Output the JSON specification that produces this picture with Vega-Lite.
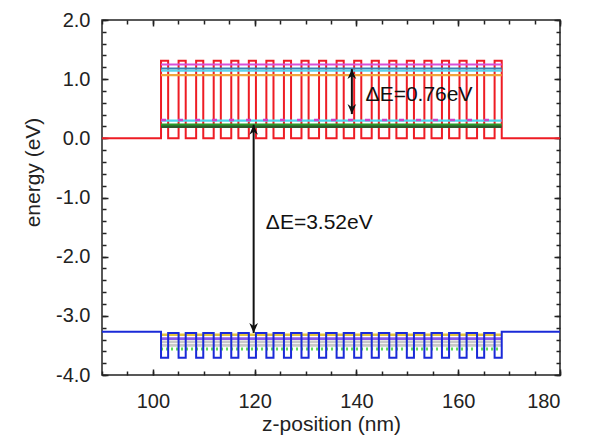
{
  "$schema": "https://vega.github.io/schema/vega-lite/v6.json",
  "width": 458,
  "height": 355,
  "autosize": "none",
  "padding": {"left": 102, "top": 20, "right": 30, "bottom": 62},
  "background": "white",
  "config": {
    "font": "Liberation Sans",
    "view": {"stroke": "#222", "strokeWidth": 1.5},
    "axis": {
      "labelFont": "Liberation Sans",
      "titleFont": "Liberation Sans",
      "labelColor": "#222",
      "titleColor": "#222",
      "tickColor": "#222",
      "tickWidth": 1.5,
      "domain": false,
      "grid": false,
      "labelFontSize": 20,
      "titleFontSize": 21,
      "titleFontWeight": "normal"
    }
  },
  "resolve": {"axis": {"x": "independent", "y": "independent"}},
  "datasets": {
    "cb": [{"o":0,"x":90,"y":0},{"o":1,"x":101.6,"y":0},{"o":2,"x":101.6,"y":1.31},{"o":3,"x":103.0,"y":1.31},{"o":4,"x":103.0,"y":0},{"o":5,"x":105.05,"y":0},{"o":6,"x":105.05,"y":1.31},{"o":7,"x":106.45,"y":1.31},{"o":8,"x":106.45,"y":0},{"o":9,"x":108.5,"y":0},{"o":10,"x":108.5,"y":1.31},{"o":11,"x":109.9,"y":1.31},{"o":12,"x":109.9,"y":0},{"o":13,"x":111.95,"y":0},{"o":14,"x":111.95,"y":1.31},{"o":15,"x":113.35,"y":1.31},{"o":16,"x":113.35,"y":0},{"o":17,"x":115.4,"y":0},{"o":18,"x":115.4,"y":1.31},{"o":19,"x":116.8,"y":1.31},{"o":20,"x":116.8,"y":0},{"o":21,"x":118.85,"y":0},{"o":22,"x":118.85,"y":1.31},{"o":23,"x":120.25,"y":1.31},{"o":24,"x":120.25,"y":0},{"o":25,"x":122.3,"y":0},{"o":26,"x":122.3,"y":1.31},{"o":27,"x":123.7,"y":1.31},{"o":28,"x":123.7,"y":0},{"o":29,"x":125.75,"y":0},{"o":30,"x":125.75,"y":1.31},{"o":31,"x":127.15,"y":1.31},{"o":32,"x":127.15,"y":0},{"o":33,"x":129.2,"y":0},{"o":34,"x":129.2,"y":1.31},{"o":35,"x":130.6,"y":1.31},{"o":36,"x":130.6,"y":0},{"o":37,"x":132.65,"y":0},{"o":38,"x":132.65,"y":1.31},{"o":39,"x":134.05,"y":1.31},{"o":40,"x":134.05,"y":0},{"o":41,"x":136.1,"y":0},{"o":42,"x":136.1,"y":1.31},{"o":43,"x":137.5,"y":1.31},{"o":44,"x":137.5,"y":0},{"o":45,"x":139.55,"y":0},{"o":46,"x":139.55,"y":1.31},{"o":47,"x":140.95,"y":1.31},{"o":48,"x":140.95,"y":0},{"o":49,"x":143.0,"y":0},{"o":50,"x":143.0,"y":1.31},{"o":51,"x":144.4,"y":1.31},{"o":52,"x":144.4,"y":0},{"o":53,"x":146.45,"y":0},{"o":54,"x":146.45,"y":1.31},{"o":55,"x":147.85,"y":1.31},{"o":56,"x":147.85,"y":0},{"o":57,"x":149.9,"y":0},{"o":58,"x":149.9,"y":1.31},{"o":59,"x":151.3,"y":1.31},{"o":60,"x":151.3,"y":0},{"o":61,"x":153.35,"y":0},{"o":62,"x":153.35,"y":1.31},{"o":63,"x":154.75,"y":1.31},{"o":64,"x":154.75,"y":0},{"o":65,"x":156.8,"y":0},{"o":66,"x":156.8,"y":1.31},{"o":67,"x":158.2,"y":1.31},{"o":68,"x":158.2,"y":0},{"o":69,"x":160.25,"y":0},{"o":70,"x":160.25,"y":1.31},{"o":71,"x":161.65,"y":1.31},{"o":72,"x":161.65,"y":0},{"o":73,"x":163.7,"y":0},{"o":74,"x":163.7,"y":1.31},{"o":75,"x":165.1,"y":1.31},{"o":76,"x":165.1,"y":0},{"o":77,"x":167.15,"y":0},{"o":78,"x":167.15,"y":1.31},{"o":79,"x":168.55,"y":1.31},{"o":80,"x":168.55,"y":0},{"o":81,"x":180,"y":0}],
    "vb": [{"o":0,"x":90,"y":-3.27},{"o":1,"x":101.6,"y":-3.27},{"o":2,"x":101.6,"y":-3.71},{"o":3,"x":103.0,"y":-3.71},{"o":4,"x":103.0,"y":-3.29},{"o":5,"x":105.05,"y":-3.29},{"o":6,"x":105.05,"y":-3.71},{"o":7,"x":106.45,"y":-3.71},{"o":8,"x":106.45,"y":-3.29},{"o":9,"x":108.5,"y":-3.29},{"o":10,"x":108.5,"y":-3.71},{"o":11,"x":109.9,"y":-3.71},{"o":12,"x":109.9,"y":-3.29},{"o":13,"x":111.95,"y":-3.29},{"o":14,"x":111.95,"y":-3.71},{"o":15,"x":113.35,"y":-3.71},{"o":16,"x":113.35,"y":-3.29},{"o":17,"x":115.4,"y":-3.29},{"o":18,"x":115.4,"y":-3.71},{"o":19,"x":116.8,"y":-3.71},{"o":20,"x":116.8,"y":-3.29},{"o":21,"x":118.85,"y":-3.29},{"o":22,"x":118.85,"y":-3.71},{"o":23,"x":120.25,"y":-3.71},{"o":24,"x":120.25,"y":-3.29},{"o":25,"x":122.3,"y":-3.29},{"o":26,"x":122.3,"y":-3.71},{"o":27,"x":123.7,"y":-3.71},{"o":28,"x":123.7,"y":-3.29},{"o":29,"x":125.75,"y":-3.29},{"o":30,"x":125.75,"y":-3.71},{"o":31,"x":127.15,"y":-3.71},{"o":32,"x":127.15,"y":-3.29},{"o":33,"x":129.2,"y":-3.29},{"o":34,"x":129.2,"y":-3.71},{"o":35,"x":130.6,"y":-3.71},{"o":36,"x":130.6,"y":-3.29},{"o":37,"x":132.65,"y":-3.29},{"o":38,"x":132.65,"y":-3.71},{"o":39,"x":134.05,"y":-3.71},{"o":40,"x":134.05,"y":-3.29},{"o":41,"x":136.1,"y":-3.29},{"o":42,"x":136.1,"y":-3.71},{"o":43,"x":137.5,"y":-3.71},{"o":44,"x":137.5,"y":-3.29},{"o":45,"x":139.55,"y":-3.29},{"o":46,"x":139.55,"y":-3.71},{"o":47,"x":140.95,"y":-3.71},{"o":48,"x":140.95,"y":-3.29},{"o":49,"x":143.0,"y":-3.29},{"o":50,"x":143.0,"y":-3.71},{"o":51,"x":144.4,"y":-3.71},{"o":52,"x":144.4,"y":-3.29},{"o":53,"x":146.45,"y":-3.29},{"o":54,"x":146.45,"y":-3.71},{"o":55,"x":147.85,"y":-3.71},{"o":56,"x":147.85,"y":-3.29},{"o":57,"x":149.9,"y":-3.29},{"o":58,"x":149.9,"y":-3.71},{"o":59,"x":151.3,"y":-3.71},{"o":60,"x":151.3,"y":-3.29},{"o":61,"x":153.35,"y":-3.29},{"o":62,"x":153.35,"y":-3.71},{"o":63,"x":154.75,"y":-3.71},{"o":64,"x":154.75,"y":-3.29},{"o":65,"x":156.8,"y":-3.29},{"o":66,"x":156.8,"y":-3.71},{"o":67,"x":158.2,"y":-3.71},{"o":68,"x":158.2,"y":-3.29},{"o":69,"x":160.25,"y":-3.29},{"o":70,"x":160.25,"y":-3.71},{"o":71,"x":161.65,"y":-3.71},{"o":72,"x":161.65,"y":-3.29},{"o":73,"x":163.7,"y":-3.29},{"o":74,"x":163.7,"y":-3.71},{"o":75,"x":165.1,"y":-3.71},{"o":76,"x":165.1,"y":-3.29},{"o":77,"x":167.15,"y":-3.29},{"o":78,"x":167.15,"y":-3.71},{"o":79,"x":168.55,"y":-3.71},{"o":80,"x":168.55,"y":-3.27},{"o":81,"x":180,"y":-3.27}],
    "cbLevels": [
      {"n":"c1","x":101.6,"x2":168.55,"y":1.25},
      {"n":"c2","x":101.6,"x2":168.55,"y":1.18},
      {"n":"c3","x":101.6,"x2":168.55,"y":1.145},
      {"n":"c4","x":101.6,"x2":168.55,"y":1.07},
      {"n":"c5","x":101.6,"x2":168.55,"y":0.30},
      {"n":"c6","x":101.6,"x2":168.55,"y":0.31},
      {"n":"c7","x":101.6,"x2":168.55,"y":0.23},
      {"n":"c8","x":101.6,"x2":168.55,"y":0.195}
    ],
    "vbLevels": [
      {"n":"v1","x":101.6,"x2":168.55,"y":-3.32},
      {"n":"v2","x":101.6,"x2":168.55,"y":-3.385},
      {"n":"v3","x":101.6,"x2":168.55,"y":-3.44},
      {"n":"v4","x":101.6,"x2":168.55,"y":-3.50},
      {"n":"v5","x":101.6,"x2":168.55,"y":-3.56}
    ],
    "arrows": [
      {"x":119.8,"y":0.23,"y2":-3.29},
      {"x":139.1,"y":1.17,"y2":0.41}
    ],
    "heads": [
      {"x":119.8,"y":0.23,"dir":"up"},
      {"x":119.8,"y":-3.29,"dir":"down"},
      {"x":139.1,"y":1.17,"dir":"up"},
      {"x":139.1,"y":0.41,"dir":"down"}
    ],
    "notes": [
      {"label":"ΔE=0.76eV","x":141.8,"y":0.73},
      {"label":"ΔE=3.52eV","x":122.2,"y":-1.43}
    ]
  },
  "layer": [
    {
      "data": {"name": "cb"},
      "mark": {"type": "line", "color": "#ee1c24", "strokeWidth": 2},
      "encoding": {
        "x": {"field": "x", "type": "quantitative", "scale": {"domain": [90, 180], "nice": false, "zero": false},
          "axis": {"orient": "bottom", "values": [100, 120, 140, 160, 180], "tickSize": -6, "labelPadding": 22, "title": "z-position (nm)", "titlePadding": 2}},
        "y": {"field": "y", "type": "quantitative", "scale": {"domain": [-4, 2], "nice": false, "zero": false},
          "axis": {"orient": "left", "values": [-4, -3, -2, -1, 0, 1, 2], "tickSize": -6, "labelPadding": 18,
            "labelExpr": "(datum.value < 0 ? '-' : '') + format(abs(datum.value), '.1f')",
            "title": "energy (eV)", "titlePadding": 12, "titleY": 152}},
        "order": {"field": "o", "type": "quantitative"}
      }
    },
    {
      "data": {"name": "cbLevels"},
      "mark": {"type": "rule"},
      "encoding": {
        "x": {"field": "x", "type": "quantitative", "scale": {"domain": [90, 180], "nice": false, "zero": false},
          "axis": {"orient": "bottom", "values": [90,95,100,105,110,115,120,125,130,135,140,145,150,155,160,165,170,175,180], "tickSize": -4, "labels": false, "title": null}},
        "x2": {"field": "x2"},
        "y": {"field": "y", "type": "quantitative", "scale": {"domain": [-4, 2], "nice": false, "zero": false},
          "axis": {"orient": "left", "values": [-4,-3.8,-3.6,-3.4,-3.2,-3,-2.8,-2.6,-2.4,-2.2,-2,-1.8,-1.6,-1.4,-1.2,-1,-0.8,-0.6,-0.4,-0.2,0,0.2,0.4,0.6,0.8,1,1.2,1.4,1.6,1.8,2], "tickSize": -4, "labels": false, "title": null}},
        "color": {"field": "n", "type": "nominal", "legend": null,
          "scale": {"domain": ["c1","c2","c3","c4","c5","c6","c7","c8","v1","v2","v3","v4","v5"],
                    "range": ["#d84fd8","#3a7fb0","#5fd3ea","#f2a43a","#4fd6ee","#cc44cc","#2a9a2a","#2d5a2d","#e3c23a","#8a5ae8","#c8c8c8","#c8c8c8","#55dd55"]}},
        "strokeWidth": {"field": "n", "type": "nominal", "legend": null,
          "scale": {"domain": ["c1","c2","c3","c4","c5","c6","c7","c8","v1","v2","v3","v4","v5"],
                    "range": [2, 3, 2, 1.8, 3, 2.5, 1.5, 1.2, 2.5, 1.5, 1.5, 1.5, 1.8]}},
        "strokeDash": {"field": "n", "type": "nominal", "legend": null,
          "scale": {"domain": ["c1","c2","c3","c4","c5","c6","c7","c8","v1","v2","v3","v4","v5"],
                    "range": [[1,0],[1,0],[1,0],[1,0],[1,0],[5,12],[1,0],[1,0],[1,0],[1,0],[1,0],[1,0],[2,3]]}}
      }
    },
    {
      "data": {"name": "vbLevels"},
      "mark": {"type": "rule"},
      "encoding": {
        "x": {"field": "x", "type": "quantitative", "scale": {"domain": [90, 180], "nice": false, "zero": false},
          "axis": {"orient": "top", "values": [100, 120, 140, 160, 180], "tickSize": -6, "labels": false, "title": null}},
        "x2": {"field": "x2"},
        "y": {"field": "y", "type": "quantitative", "scale": {"domain": [-4, 2], "nice": false, "zero": false},
          "axis": {"orient": "right", "values": [-4, -3, -2, -1, 0, 1, 2], "tickSize": -6, "labels": false, "title": null}},
        "color": {"field": "n", "type": "nominal", "legend": null,
          "scale": {"domain": ["c1","c2","c3","c4","c5","c6","c7","c8","v1","v2","v3","v4","v5"],
                    "range": ["#d84fd8","#3a7fb0","#5fd3ea","#f2a43a","#4fd6ee","#cc44cc","#2a9a2a","#2d5a2d","#e3c23a","#8a5ae8","#c8c8c8","#c8c8c8","#55dd55"]}},
        "strokeWidth": {"field": "n", "type": "nominal", "legend": null,
          "scale": {"domain": ["c1","c2","c3","c4","c5","c6","c7","c8","v1","v2","v3","v4","v5"],
                    "range": [2, 3, 2, 1.8, 3, 2.5, 1.5, 1.2, 2.5, 1.5, 1.5, 1.5, 1.8]}},
        "strokeDash": {"field": "n", "type": "nominal", "legend": null,
          "scale": {"domain": ["c1","c2","c3","c4","c5","c6","c7","c8","v1","v2","v3","v4","v5"],
                    "range": [[1,0],[1,0],[1,0],[1,0],[1,0],[5,12],[1,0],[1,0],[1,0],[1,0],[1,0],[1,0],[2,3]]}}
      }
    },
    {
      "data": {"name": "vb"},
      "mark": {"type": "line", "color": "#1a2ad8", "strokeWidth": 2},
      "encoding": {
        "x": {"field": "x", "type": "quantitative", "scale": {"domain": [90, 180], "nice": false, "zero": false},
          "axis": {"orient": "top", "values": [90,95,100,105,110,115,120,125,130,135,140,145,150,155,160,165,170,175,180], "tickSize": -4, "labels": false, "title": null}},
        "y": {"field": "y", "type": "quantitative", "scale": {"domain": [-4, 2], "nice": false, "zero": false},
          "axis": {"orient": "right", "values": [-4,-3.8,-3.6,-3.4,-3.2,-3,-2.8,-2.6,-2.4,-2.2,-2,-1.8,-1.6,-1.4,-1.2,-1,-0.8,-0.6,-0.4,-0.2,0,0.2,0.4,0.6,0.8,1,1.2,1.4,1.6,1.8,2], "tickSize": -4, "labels": false, "title": null}},
        "order": {"field": "o", "type": "quantitative"}
      }
    },
    {
      "data": {"name": "arrows"},
      "mark": {"type": "rule", "color": "#111", "strokeWidth": 2},
      "encoding": {
        "x": {"field": "x", "type": "quantitative", "axis": null},
        "y": {"field": "y", "type": "quantitative", "axis": null},
        "y2": {"field": "y2"}
      }
    },
    {
      "data": {"name": "heads"},
      "mark": {"type": "point", "filled": true, "color": "#111", "opacity": 1, "size": 300},
      "encoding": {
        "x": {"field": "x", "type": "quantitative", "axis": null},
        "y": {"field": "y", "type": "quantitative", "axis": null},
        "shape": {"field": "dir", "type": "nominal", "legend": null,
          "scale": {"domain": ["up", "down"], "range": ["M0,0L-0.5,1.15L0,0.8L0.5,1.15Z", "M0,0L-0.5,-1.15L0,-0.8L0.5,-1.15Z"]}}
      }
    },
    {
      "data": {"name": "notes"},
      "mark": {"type": "text", "align": "left", "baseline": "middle", "font": "Liberation Sans", "fontSize": 21, "color": "#111"},
      "encoding": {
        "x": {"field": "x", "type": "quantitative", "axis": null},
        "y": {"field": "y", "type": "quantitative", "axis": null},
        "text": {"field": "label"}
      }
    }
  ]
}
